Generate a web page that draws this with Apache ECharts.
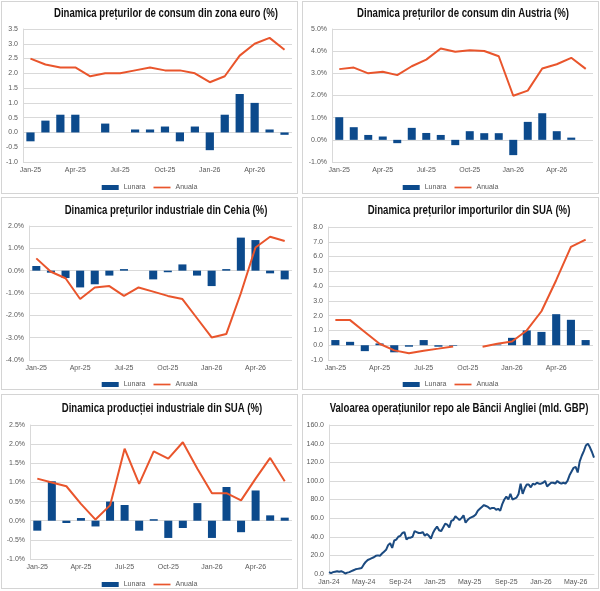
<!DOCTYPE html>
<html>
<head>
<meta charset="utf-8">
<script src="https://cdn.jsdelivr.net/npm/echarts@6/dist/echarts.min.js"></script>
<style>
  html, body { margin: 0; padding: 0; background: #fff; }
  .panel { position: absolute; box-sizing: border-box; border: 1px solid #d4d4d4; background: #fff; }
</style>
</head>
<body>
<div class="panel" id="p1" style="left:1px;top:1px;width:297px;height:193px"></div>
<div class="panel" id="p2" style="left:302px;top:1px;width:297px;height:193px"></div>
<div class="panel" id="p3" style="left:1px;top:197px;width:297px;height:193px"></div>
<div class="panel" id="p4" style="left:302px;top:197px;width:297px;height:193px"></div>
<div class="panel" id="p5" style="left:1px;top:394px;width:297px;height:195px"></div>
<div class="panel" id="p6" style="left:302px;top:394px;width:297px;height:195px"></div>
<script>
  const months = ["Jan-25", "Feb-25", "Mar-25", "Apr-25", "May-25", "Jun-25", "Jul-25", "Aug-25", "Sep-25",
    "Oct-25", "Nov-25", "Dec-25", "Jan-26", "Feb-26", "Mar-26", "Apr-26", "May-26", "Jun-26"];

  // zona euro
  const euroMonthly = [-0.3, 0.4, 0.6, 0.6, null, 0.3, null, 0.1, 0.1, 0.2, -0.3, 0.2, -0.6, 0.6, 1.3, 1.0, 0.1, -0.08];
  const euroAnnual = [2.5, 2.3, 2.2, 2.2, 1.9, 2.0, 2.0, 2.1, 2.2, 2.1, 2.1, 2.0, 1.7, 1.9, 2.6, 3.0, 3.2, 2.8];

  // Austria
  const atMonthly = [1.02, 0.57, 0.22, 0.15, -0.15, 0.54, 0.31, 0.22, -0.24, 0.39, 0.3, 0.3, -0.69, 0.81, 1.2, 0.39, 0.1, null];
  const atAnnual = [3.19, 3.26, 3.0, 3.07, 2.92, 3.32, 3.62, 4.12, 3.97, 4.04, 4.01, 3.77, 1.99, 2.22, 3.22, 3.41, 3.7, 3.2];

  // Cehia
  const czMonthly = [0.21, -0.09, -0.33, -0.75, -0.61, -0.22, 0.07, null, -0.39, -0.07, 0.28, -0.22, -0.69, 0.07, 1.48, 1.37, -0.12, -0.39];
  const czAnnual = [0.55, -0.05, -0.34, -1.27, -0.75, -0.69, -1.13, -0.75, -0.94, -1.13, -1.27, -2.13, -2.99, -2.84, -1.01, 1.04, 1.52, 1.33];

  // SUA importuri
  const usImpMonthly = [0.35, 0.23, -0.4, 0.12, -0.48, -0.1, 0.35, -0.1, -0.04, null, null, 0.05, 0.5, 1.0, 0.9, 2.1, 1.72, 0.35];
  const usImpAnnual = [1.7, 1.7, 0.9, 0.1, -0.35, -0.55, -0.37, -0.23, -0.08, null, -0.1, 0.1, 0.25, 1.0, 2.3, 4.4, 6.65, 7.15];

  // SUA productie industriala
  const usIndMonthly = [-0.26, 1.03, -0.06, 0.07, -0.15, 0.5, 0.41, -0.26, 0.04, -0.45, -0.19, 0.46, -0.45, 0.88, -0.3, 0.79, 0.14, 0.08];
  const usIndAnnual = [1.1, 1.0, 0.9, 0.44, 0.03, 0.4, 1.88, 0.96, 1.81, 1.62, 2.05, 1.36, 0.72, 0.72, 0.53, 1.1, 1.64, 1.03];

  // repo BoE, saptamanal din 5 ian 2024
  const repoStart = "2024-01-05";
  const repoValues = [
    2, 1, 2, 2.5, 3, 2.5, 3, 2, 0.5, 1.5,
    2, 3, 4, 5, 5.5, 6, 6.5, 10, 13, 15,
    16, 17, 18, 19.5, 20, 19.5, 22, 24, 26, 31,
    33, 28, 36, 37, 40, 41, 44, 45, 37, 39,
    39, 40, 46, 45, 44, 44, 45, 41, 43, 41,
    38, 44, 48, 51, 47, 46, 50, 54, 53, 50,
    57, 58, 62, 60, 58, 60, 63, 55, 58, 60,
    61, 62, 64, 68, 70, 72, 74, 73, 72, 70,
    71, 71, 69, 70, 68, 75, 80, 83, 80, 86,
    80, 81, 82, 86, 97, 86, 92, 96, 96, 93,
    97, 96, 98, 97, 97, 98, 100, 94, 96, 98,
    98, 97, 100, 98, 97, 98, 97, 100, 106, 110,
    114, 115, 109, 121, 127, 132, 138, 140, 136, 131,
    125
  ];

  const BLUE = "#0c4a8c";
  const RED = "#e9552c";
  const LABEL = "#595959";
  const GRID = "#d9d9d9";
  const TITLE_FONT = 'bold 12px "Liberation Sans", Arial, sans-serif';
  const BASE_FONT = '"Liberation Sans", Arial, sans-serif';

  const monthNames = ["Jan", "Feb", "Mar", "Apr", "May", "Jun", "Jul", "Aug", "Sep", "Oct", "Nov", "Dec"];
  const repoDates = repoValues.map((_, i) => {
    const d = new Date(repoStart + "T00:00:00Z");
    d.setUTCDate(d.getUTCDate() + 7 * i);
    return d;
  });
  const repoCats = repoDates.map((d) => `${monthNames[d.getUTCMonth()]}-${String(d.getUTCFullYear()).slice(2)}`);
  const repoShow = (i) => repoDates[i].getUTCDate() <= 7 && repoDates[i].getUTCMonth() % 4 === 0;

  // titlul e condensat in original, deci il strangem pe orizontala
  function titleGraphic(text, x, y) {
    return [{
      type: "text", x, y, scaleX: 0.8,
      style: { text, font: TITLE_FONT, fill: "#111", align: "center", verticalAlign: "middle" },
    }];
  }

  function barLineOption(cfg) {
    return {
      animation: false,
      textStyle: { fontFamily: BASE_FONT },
      graphic: titleGraphic(cfg.title, cfg.titleX, cfg.titleY),
      grid: { ...cfg.grid, outerBoundsMode: "none" },
      legend: {
        left: "center",
        top: cfg.legendTop,
        padding: 0,
        itemWidth: 17,
        itemHeight: 5,
        itemGap: 8,
        textStyle: { fontSize: 7, color: LABEL },
        data: [{ name: "Lunara", icon: "rect" }, { name: "Anuala", icon: "path://M0,0H20V2H0Z" }],
      },
      xAxis: {
        type: "category",
        data: months,
        axisLine: { show: false },
        axisTick: { show: false },
        axisLabel: { interval: 2, fontSize: 7, color: LABEL, margin: 5 },
      },
      yAxis: {
        type: "value",
        min: cfg.min,
        max: cfg.max,
        interval: cfg.interval,
        axisLine: { show: true, lineStyle: { color: GRID } },
        axisLabel: {
          fontSize: 7,
          color: LABEL,
          margin: 5,
          formatter: (v) => v.toFixed(1) + (cfg.percent ? "%" : ""),
        },
        splitLine: { lineStyle: { color: GRID } },
      },
      series: [
        { name: "Lunara", type: "bar", data: cfg.bars, barWidth: "55%", itemStyle: { color: BLUE } },
        {
          name: "Anuala", type: "line", data: cfg.line, symbol: "none",
          lineStyle: { width: 2, color: RED }, itemStyle: { color: RED },
        },
      ],
    };
  }

  const panels = [
    ["p1", {
      title: "Dinamica prețurilor de consum din zona euro (%)", titleX: 164, titleY: 12,
      grid: { left: 21, right: 5, top: 27, bottom: 31 }, legendTop: 182,
      min: -1, max: 3.5, interval: 0.5, percent: false, bars: euroMonthly, line: euroAnnual,
    }],
    ["p2", {
      title: "Dinamica prețurilor de consum din Austria (%)", titleX: 160, titleY: 12,
      grid: { left: 29, right: 5, top: 27, bottom: 31 }, legendTop: 182,
      min: -1, max: 5, interval: 1, percent: true, bars: atMonthly, line: atAnnual,
    }],
    ["p3", {
      title: "Dinamica prețurilor industriale din Cehia (%)", titleX: 164, titleY: 13,
      grid: { left: 27, right: 5, top: 28, bottom: 29 }, legendTop: 183,
      min: -4, max: 2, interval: 1, percent: true, bars: czMonthly, line: czAnnual,
    }],
    ["p4", {
      title: "Dinamica prețurilor importurilor din SUA (%)", titleX: 166, titleY: 13,
      grid: { left: 25, right: 5, top: 29, bottom: 29 }, legendTop: 183,
      min: -1, max: 8, interval: 1, percent: false, bars: usImpMonthly, line: usImpAnnual,
    }],
    ["p5", {
      title: "Dinamica producției industriale din SUA (%)", titleX: 160, titleY: 14,
      grid: { left: 28, right: 5, top: 30, bottom: 29 }, legendTop: 186,
      min: -1, max: 2.5, interval: 0.5, percent: true, bars: usIndMonthly, line: usIndAnnual,
    }],
  ];

  panels.forEach(([id, cfg]) => {
    const chart = echarts.init(document.getElementById(id), null, { renderer: "canvas" });
    chart.setOption(barLineOption(cfg));
  });

  const repoChart = echarts.init(document.getElementById("p6"), null, { renderer: "canvas" });
  repoChart.setOption({
    animation: false,
    textStyle: { fontFamily: BASE_FONT },
    graphic: titleGraphic("Valoarea operațiunilor repo ale Băncii Angliei (mld. GBP)", 156, 14),
    grid: { left: 26, right: 4, top: 30, bottom: 14, outerBoundsMode: "none" },
    xAxis: {
      type: "category",
      data: repoCats,
      boundaryGap: false,
      axisLine: { show: true, lineStyle: { color: GRID } },
      axisTick: { show: false },
      axisLabel: { interval: (i) => repoShow(i), fontSize: 7, color: LABEL, margin: 5 },
    },
    yAxis: {
      type: "value",
      min: 0,
      max: 160,
      interval: 20,
      axisLine: { show: true, lineStyle: { color: GRID } },
      axisLabel: { fontSize: 7, color: LABEL, margin: 5, formatter: (v) => v.toFixed(1) },
      splitLine: { lineStyle: { color: GRID } },
    },
    series: [{
      type: "line",
      data: repoValues,
      symbol: "none",
      lineStyle: { width: 2, color: "#1b4a80" },
    }],
  });
</script>
</body>
</html>
